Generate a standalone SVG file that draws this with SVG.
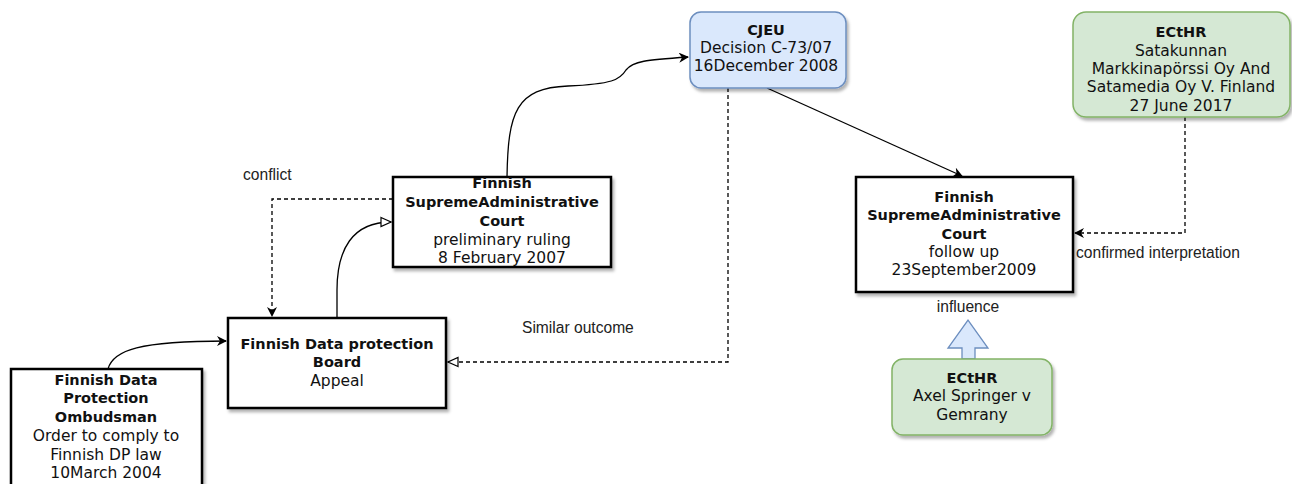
<svg xmlns="http://www.w3.org/2000/svg" width="1292" height="484" viewBox="0 0 1292 484">
<style>
.box{fill:#fff;stroke:#000;stroke-width:2.5}
.blue{fill:#dae8fc;stroke:#6c8ebf;stroke-width:1.5}
.green{fill:#d5e8d4;stroke:#82b366;stroke-width:1.5}
.t{font-family:"DejaVu Sans",Verdana,sans-serif;font-size:15.5px;fill:#111;text-anchor:middle}
.b{font-weight:bold;font-size:14.5px}
.lbl{font-family:"Liberation Sans",Arial,sans-serif;font-size:15.6px;fill:#222}
.e{fill:none;stroke:#000;stroke-width:1.3}
.d{stroke-dasharray:4 3}
</style>
<defs>
<filter id="sh" x="-10%" y="-10%" width="130%" height="130%">
<feDropShadow dx="2" dy="3" stdDeviation="1.5" flood-color="#000" flood-opacity="0.3"/>
</filter>
<marker id="fa" viewBox="0 0 10 10" refX="9" refY="5" markerWidth="10" markerHeight="10" markerUnits="userSpaceOnUse" orient="auto">
<path d="M0,0 L10,5 L0,10 L3,5 z" fill="#000"/>
</marker>
<marker id="oa" viewBox="0 0 12 12" refX="11" refY="6" markerWidth="12" markerHeight="12" markerUnits="userSpaceOnUse" orient="auto">
<path d="M1,1.5 L11,6 L1,10.5 z" fill="#fff" stroke="#000" stroke-width="1.2"/>
</marker>
</defs>

<g id="connectors">
<path class="e" d="M108,369 C113,350 140,341 226,341" marker-end="url(#fa)"/>
<path class="e" d="M337,318 L337,290 C337,250 352,222 391,222" marker-end="url(#oa)"/>
<path class="e d" d="M393,199 L272,199 L272,316" marker-end="url(#fa)"/>
<path class="e" d="M507,177 C508,112 516,88 568,86 C612,84 620,80 626,70 C633,61 646,60 688,57" marker-end="url(#fa)"/>
<path class="e" d="M767,88 L962,176" marker-end="url(#fa)"/>
<path class="e d" d="M728,88 L728,362 L448,362" marker-end="url(#oa)"/>
<path class="e d" d="M1185,117 L1185,233 L1075,233" marker-end="url(#fa)"/>
<path d="M962,359 L962,348 L948,348 L968,320 L988,348 L975,348 L975,359 z" fill="#dae8fc" stroke="#6c8ebf" stroke-width="1.3"/>
<text class="lbl" x="243" y="180">conflict</text>
<text class="lbl" x="522" y="333">Similar outcome</text>
<text class="lbl" x="1076" y="258">confirmed interpretation</text>
<text class="lbl" x="968" y="312" text-anchor="middle">influence</text>
</g>

<g id="ombudsman">
<rect class="box" x="11" y="369" width="191" height="122" filter="url(#sh)"/>
<text class="t b" x="106" y="385">Finnish Data</text>
<text class="t b" x="106" y="403">Protection</text>
<text class="t b" x="106" y="422">Ombudsman</text>
<text class="t" x="106" y="441">Order to comply to</text>
<text class="t" x="106" y="460">Finnish DP law</text>
<text class="t" x="106" y="478">10March 2004</text>
</g>

<g id="board">
<rect class="box" x="228" y="318" width="218" height="90" filter="url(#sh)"/>
<text class="t b" x="337" y="349">Finnish Data protection</text>
<text class="t b" x="337" y="367">Board</text>
<text class="t" x="337" y="386">Appeal</text>
</g>

<g id="supreme1">
<rect class="box" x="393" y="177" width="218" height="90" filter="url(#sh)"/>
<text class="t b" x="502" y="188">Finnish</text>
<text class="t b" x="502" y="207">SupremeAdministrative</text>
<text class="t b" x="502" y="226">Court</text>
<text class="t" x="502" y="245">preliminary ruling</text>
<text class="t" x="502" y="263">8 February 2007</text>
</g>

<g id="cjeu">
<rect class="blue" x="690" y="12" width="156" height="76" rx="11" filter="url(#sh)"/>
<text class="t b" x="766" y="35">CJEU</text>
<text class="t" x="766" y="53">Decision C-73/07</text>
<text class="t" x="766" y="71">16December 2008</text>
</g>

<g id="supreme2">
<rect class="box" x="856" y="177" width="217" height="115" filter="url(#sh)"/>
<text class="t b" x="964" y="202">Finnish</text>
<text class="t b" x="964" y="220">SupremeAdministrative</text>
<text class="t b" x="964" y="239">Court</text>
<text class="t" x="964" y="257">follow up</text>
<text class="t" x="964" y="275">23September2009</text>
</g>

<g id="ecthr1">
<rect class="green" x="1073" y="12" width="217" height="105" rx="13" filter="url(#sh)"/>
<text class="t b" x="1181" y="37">ECtHR</text>
<text class="t" x="1181" y="56">Satakunnan</text>
<text class="t" x="1181" y="74">Markkinapörssi Oy And</text>
<text class="t" x="1181" y="92">Satamedia Oy V. Finland</text>
<text class="t" x="1181" y="111">27 June 2017</text>
</g>

<g id="ecthr2">
<rect class="green" x="892" y="359" width="160" height="76" rx="11" filter="url(#sh)"/>
<text class="t b" x="972" y="383">ECtHR</text>
<text class="t" x="972" y="401">Axel Springer v</text>
<text class="t" x="972" y="420">Gemrany</text>
</g>
</svg>
